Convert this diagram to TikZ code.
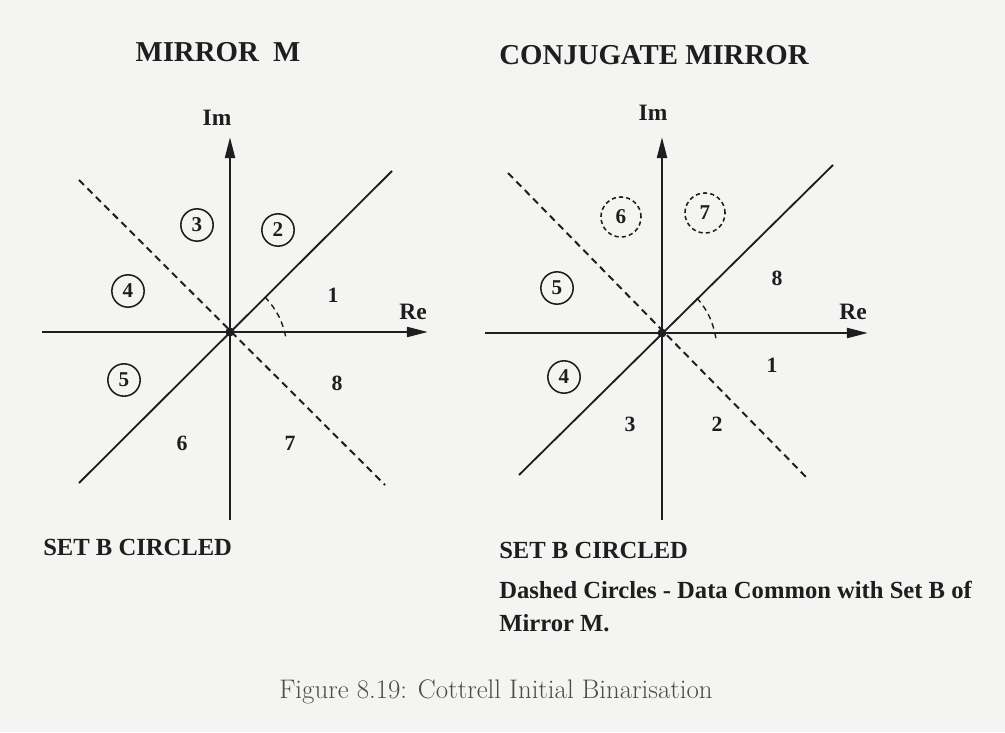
\documentclass[tikz,border=0pt]{standalone}
\usepackage{fontspec}
\newfontfamily\scanfont{Liberation Serif}
\usepackage{xcolor}
\definecolor{paper}{HTML}{F4F4F2}
\definecolor{ink}{HTML}{1E1E1E}
\usetikzlibrary{arrows.meta}

\begin{document}
\begin{tikzpicture}[x=0.025cm, y=0.025cm, color=ink,
  font=\scanfont\bfseries,
  axis/.style={draw=ink, line width=1.9pt, -{Triangle[length=15pt,width=7pt]}},
  mirrorline/.style={draw=ink, line width=1.3pt},
  dashline/.style={draw=ink, line width=1.4pt, dash pattern=on 5pt off 3.5pt},
  region/.style={font=\scanfont\bfseries\fontsize{15.5}{15}\selectfont, inner sep=0pt},
  setb/.style={region, draw=ink, circle, line width=1.1pt, minimum size=23pt,
               font=\scanfont\bfseries\fontsize{15}{15}\selectfont},
  common/.style={setb, dash pattern=on 3pt off 2.2pt, minimum size=28.5pt},
  heading/.style={font=\scanfont\bfseries\fontsize{20.5}{24}\selectfont, inner sep=0pt},
  axlabel/.style={font=\scanfont\bfseries\fontsize{16.7}{18}\selectfont, inner sep=0pt},
  note/.style={anchor=west, font=\scanfont\bfseries\fontsize{17.5}{20}\selectfont, inner sep=0pt}
]
  \fill[paper] (0,0) rectangle (1005,732);
  \useasboundingbox (0,0) rectangle (1005,732);

  % mirror M
  \coordinate (oL)    at (230,400);
  \coordinate (botL)  at (230,212);
  \coordinate (topL)  at (230,595);
  \coordinate (leftL) at (42,400);
  \coordinate (rightL) at (428,400);
  \coordinate (mlL1) at (79,249);
  \coordinate (mlL2) at (392,561);
  \coordinate (dlL1) at (79,552);
  \coordinate (dlL2) at (385,247);
  \coordinate (arcL1) at (265,435);
  \coordinate (arcL2) at (286,394);

  \node[heading] (titleL) at (218,680) {MIRROR\ \ M};
  \node[axlabel] (imL) at (217,614) {Im};
  \node[axlabel] (reL) at (413,420) {Re};

  \draw[axis] (botL) -- (topL);
  \draw[axis] (leftL) -- (rightL);
  \draw[mirrorline] (mlL1) -- (mlL2);
  \draw[dashline] (dlL1) -- (dlL2);
  \draw[dashline, line width=1pt, dash pattern=on 4pt off 3pt] (arcL1) to[bend left=15] (arcL2);
  \fill[ink] (oL) circle (4.5);

  \node[setb]   (l3) at (197,507) {3};
  \node[setb]   (l2) at (278,502) {2};
  \node[setb]   (l4) at (128,441) {4};
  \node[region] (l1) at (333,437) {1};
  \node[setb]   (l5) at (124,352) {5};
  \node[region] (l8) at (337,349) {8};
  \node[region] (l6) at (182,289) {6};
  \node[region] (l7) at (290,289) {7};

  \node[note] (setbL) at (43,185) {SET B CIRCLED};

  % conjugate mirror
  \coordinate (oR)    at (662,399);
  \coordinate (botR)  at (662,212);
  \coordinate (topR)  at (662,595);
  \coordinate (leftR) at (485,399);
  \coordinate (rightR) at (868,399);
  \coordinate (mlR1) at (519,257);
  \coordinate (mlR2) at (833,567);
  \coordinate (dlR1) at (508,559);
  \coordinate (dlR2) at (807,254);
  \coordinate (arcR1) at (697,434);
  \coordinate (arcR2) at (716,393);

  \node[heading, anchor=west] (titleR) at (499,677) {CONJUGATE MIRROR};
  \node[axlabel] (imR) at (653,619) {Im};
  \node[axlabel] (reR) at (853,420) {Re};

  \draw[axis] (botR) -- (topR);
  \draw[axis] (leftR) -- (rightR);
  \draw[mirrorline] (mlR1) -- (mlR2);
  \draw[dashline] (dlR1) -- (dlR2);
  \draw[dashline, line width=1pt, dash pattern=on 4pt off 3pt] (arcR1) to[bend left=15] (arcR2);
  \fill[ink] (oR) circle (4.5);

  \node[common] (r6) at (621,515) {6};
  \node[common] (r7) at (705,519) {7};
  \node[setb]   (r5) at (557,444) {5};
  \node[region] (r8) at (777,454) {8};
  \node[region] (r1) at (772,367) {1};
  \node[setb]   (r4) at (564,355) {4};
  \node[region] (r3) at (630,308) {3};
  \node[region] (r2) at (717,308) {2};

  \node[note] (setbR) at (499,182) {SET B CIRCLED};
  \node[note] (dashR) at (499,142) {Dashed Circles - Data Common with Set B of};
  \node[note] (mirR)  at (499,109) {Mirror M.};

  \node[font=\rmfamily\mdseries\fontsize{19.1}{22}\selectfont, text=ink!80] (caption)
        at (496,40) {Figure 8.19: Cottrell Initial Binarisation};
\end{tikzpicture}
\end{document}
